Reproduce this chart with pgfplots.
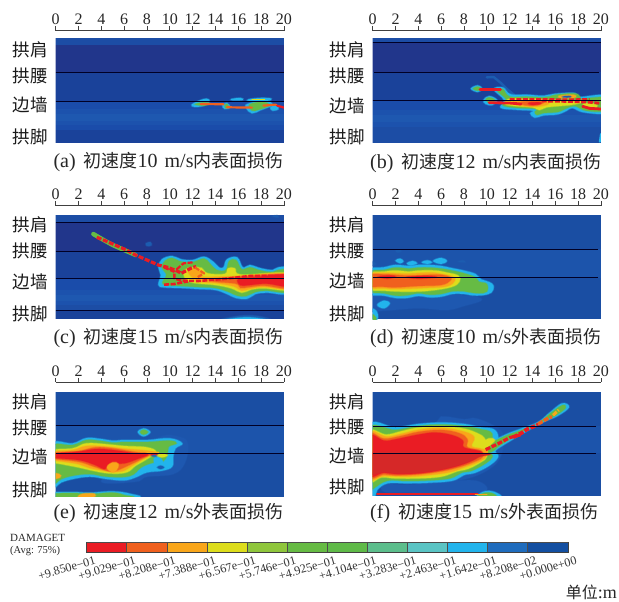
\documentclass[border=0pt]{standalone}
\usepackage{fontspec}
\setmainfont{Liberation Serif}
\newfontfamily\cjk{Noto Sans CJK SC}
\usepackage{pgfplots}
\pgfplotsset{compat=1.18}
\definecolor{c1}{HTML}{EA1C24}
\definecolor{c2}{HTML}{F0601E}
\definecolor{c3}{HTML}{F9A61A}
\definecolor{c4}{HTML}{DDDD1C}
\definecolor{c5}{HTML}{8FC63C}
\definecolor{c6}{HTML}{66BB44}
\definecolor{c7}{HTML}{5FBA48}
\definecolor{c8}{HTML}{5CBE8C}
\definecolor{c9}{HTML}{5AC4C4}
\definecolor{c10}{HTML}{22B4EC}
\definecolor{c11}{HTML}{1F6CBD}
\definecolor{c12}{HTML}{134FA1}
\definecolor{c0}{HTML}{D62828}
\definecolor{nav}{HTML}{21368B}
\definecolor{b1}{HTML}{1C4DA5}
\definecolor{b2}{HTML}{1A429A}
\definecolor{b3}{HTML}{1A4CAA}
\definecolor{b4}{HTML}{1E58B0}
\definecolor{b5}{HTML}{1A4EA3}
\definecolor{b6}{HTML}{1C54AB}
\definecolor{fnt}{HTML}{1C5CB0}
\newcommand\band[3]{\addplot[fill=#1,draw=none] coordinates {(-1,#2)(21,#2)(21,#3)(-1,#3)} --cycle;}
\newcommand\blob[2]{\addplot[fill=#1,draw=#1,draw opacity=0.4,line width=1.4pt,smooth cycle,tension=0.65] coordinates {#2};}
\newcommand\streak[3]{\addplot[draw=#1,line width=#2pt,line cap=round,line join=round] coordinates {#3};}
\newcommand\beads[3]{\addplot[draw=#1,line width=#2pt,dash pattern=on 5pt off 1.6pt,line join=round] coordinates {#3};}
\newcommand\sep[3]{\addplot[black!85!blue,line width=0.9pt] coordinates {(#2,#1)(#3,#1)};}
\newcommand\capt[5]{\node[anchor=west,inner sep=0pt,font=\fontsize{20}{20}\selectfont,black!85] at (#1pt,#2pt) {#3\hspace{8pt}{\fontsize{18}{18}\cjk 初速度}#4\hspace{7pt}m/s{\fontsize{18}{18}\cjk #5表面损伤}};}
\pgfplotsset{panel/.style={
  scale only axis,width=228.3pt,xmin=0,xmax=20,y dir=reverse,
  axis x line*=top,axis y line*=left,
  xtick={0,2,...,20},
  tick align=outside,major tick length=4.5pt,
  x axis line style={black!75,line width=0.8pt},
  xtick style={black!75,line width=0.8pt},
  y axis line style={draw=none},ytick style={draw=none},
  /pgf/number format/assume math mode=true,
  xticklabel style={font=\fontsize{16}{16}\selectfont,black!85,inner sep=1pt},
  yticklabel style={font=\fontsize{17.5}{18}\cjk,black!90,inner sep=0pt,xshift=-3pt},
  yticklabels={拱肩,拱腰,边墙,拱脚},
}}
\begin{document}
\begin{tikzpicture}
\path[use as bounding box] (0,0) rectangle (619pt,602pt);

% (a)
\begin{axis}[panel,at={(55.67pt,458.7pt)},anchor=south west,height=112.7pt,ymin=92,ymax=430,ytick={148,228,315,410}]
\band{b1}{113}{135}
\band{nav}{135}{218}
\band{b2}{218}{306}
\band{b3}{306}{328}
\band{b3!50!b4}{328}{342}
\band{b4}{342}{362}
\band{b3!50!b4}{362}{376}
\band{b3}{376}{390}
\band{b2}{390}{430}
\blob{c10}{(11.9,315)(12.5,303)(13.2,296)(13.5,304)(13,317)(12.2,321)}
\blob{c6}{(12.2,313)(13,307)(13.5,311)(13,317)}
\blob{c10}{(15.4,297)(16.2,294)(16.4,300)(15.5,301)}
\blob{c10}{(16.9,298)(18,294)(18.9,296)(18.5,303)(17,303)}
\blob{c10}{(16.8,312)(18.3,302)(19,315)(18,330)(17.2,340)(16.7,325)}
\blob{c6}{(17,313)(18.2,306)(18.7,317)(17.8,329)(17.2,332)}
\blob{c10}{(14.6,316)(15,309)(15.3,322)(14.8,327)}
\blob{c6}{(14.8,318)(15,312)(15.2,322)(14.9,325)}
\blob{c10}{(18.8,322)(19.4,316)(19.5,328)(19,332)}
\streak{c2}{2.2}{(12.7,312)(14.7,313)}
\streak{c2}{2.2}{(15,322)(17.2,323)}
\streak{c2}{2.2}{(18.2,317)(19.3,314)}
\streak{c1}{2.2}{(19.4,317)(20,323)}
\streak{c4}{1.2}{(17.2,298)(18.3,298)}
\sep{218}{0}{20}
\sep{306}{0}{20}
\end{axis}
\capt{53.3}{440}{(a)}{10}{内}

% (b)
\begin{axis}[panel,at={(372.67pt,459.3pt)},anchor=south west,height=112pt,ymin=92,ymax=428,ytick={150,228,318,410}]
\band{b1}{113}{126}
\band{nav}{126}{216}
\band{b2}{216}{302}
\band{b3}{302}{330}
\band{b3!50!b4}{330}{345}
\band{b4}{345}{365}
\band{b3!50!b4}{365}{380}
\band{b1}{380}{428}
\streak{fnt}{2.4}{(10,232)(10.6,231)(11.2,248)(11.8,268)(12.4,285)}
\blob{c10}{(10.6,268)(11.4,262)(12.1,283)(13.5,284)(15,287)(16,281)(17.7,279)(18,291)(20.5,287)(20.5,337)(18.5,337)(17.5,324)(17,332)(16.2,343)(15,346)(14.2,353)(13.8,340)(14,332)(12.5,329)(11.2,323)(11.5,300)}
\blob{c10}{(9.7,300)(10.2,288)(10.9,300)(10.5,315)(9.9,312)}
\blob{c6}{(9.9,300)(10.2,292)(10.7,300)(10.4,310)}
\blob{c10}{(8.6,266)(9.2,256)(9.6,266)(9.2,276)}
\blob{c6}{(8.8,266)(9.2,260)(9.5,266)(9.2,272)}
\blob{c6}{(10.9,272)(11.4,267)(12,290)(13.5,290)(15,292)(16,287)(17.5,285)(17.9,297)(20.5,293)(20.5,331)(18.7,332)(17.7,318)(16.9,326)(16.2,336)(15,339)(14.4,345)(14.2,336)(14.3,327)(12.5,323)(11.4,316)(11.7,298)}
\blob{c4}{(12,296)(13.5,296)(15.5,298)(17.8,300)(18.5,305)(17.5,314)(16.3,318)(15.2,322)(14.6,330)(14,322)(12.5,318)(11.6,312)}
\blob{c3}{(12.3,304)(13.5,301)(15.2,302)(15.4,312)(14.3,320)(12.8,316)}
\blob{c2}{(13,306)(14.3,304)(15,307)(14.3,316)(13.3,315)}
\blob{c1}{(13.7,308)(14.7,307)(14.6,313)(13.8,314)}
\blob{c6}{(15.7,287)(17.2,280)(18,283)(18,298)(16,296)}
\blob{c3}{(16.3,288)(17.3,284)(17.8,287)(17.6,294)(16.5,294)}
\blob{fnt}{(16.7,289)(17.3,288)(17.3,292)(16.7,292)}
\blob{c4}{(18.5,310)(19.5,312)(19.6,322)(18.6,320)}
\streak{c1}{2.8}{(9.4,268)(11.2,268)}
\streak{c1}{2.8}{(10.2,308)(12,309)(13,312)}
\beads{c1}{2.6}{(12,298)(14.8,298)(17,299)(19,298)}
\beads{c1}{2.8}{(14.8,303)(16.8,304)(18.8,306)(20,310)}
\streak{c1}{2.8}{(18.4,319)(19,325)(20,327)}
\streak{c10}{2}{(20,402)(19.9,425)}
\sep{126}{0}{20}
\sep{216}{0.1}{19.8}
\sep{302}{0}{20}
\end{axis}
\capt{370}{439}{(b)}{12}{内}

% (c)
\begin{axis}[panel,at={(55.67pt,283pt)},anchor=south west,height=113.3pt,ymin=77,ymax=417,ytick={133,213,305,403}]
\band{b1}{105}{128}
\band{nav}{128}{213}
\band{b2}{213}{294}
\band{b3}{294}{330}
\band{b3!50!b4}{330}{345}
\band{b4}{345}{362}
\band{b3!50!b4}{362}{376}
\band{b1}{376}{390}
\band{b2}{390}{417}
\blob{fnt}{(14.6,420)(16,408)(17.5,407)(18.7,420)}
\blob{c10}{(15,420)(16.2,413)(17.3,413)(18.3,420)}
\blob{fnt}{(19,109)(19.4,106)(19.5,112)}
\blob{fnt}{(7.9,190)(8.3,186)(8.4,196)(8,198)}
\blob{c10}{(9,315)(9.2,285)(9,262)(9.3,238)(10.2,228)(11,238)(12,240)(13,230)(13.8,245)(14.3,262)(14.7,262)(15,238)(15.9,232)(16.4,262)(17,255)(18,265)(19,270)(19.5,262)(20.5,268)(20.5,338)(18.5,338)(17.5,342)(16.8,356)(15.8,354)(15,342)(14,330)(12.5,327)(11,324)(9.5,322)}
\blob{c6}{(9.4,312)(9.7,285)(9.3,262)(9.6,242)(10.2,234)(11,245)(12,246)(13,236)(13.5,250)(14.1,270)(14.9,270)(15.2,243)(15.8,240)(16.3,268)(17,262)(18,272)(19,276)(19.5,270)(20.5,274)(20.5,334)(18.5,332)(17.5,336)(16.7,348)(15.9,347)(15.1,335)(14,324)(12.5,321)(11,318)}
\blob{c4}{(11.3,270)(12,262)(12.8,264)(13.3,280)(14.8,282)(15.1,265)(15.7,265)(16.3,284)(20.5,280)(20.5,328)(18.3,325)(17.2,328)(16.3,338)(15.4,325)(14,315)(12,308)(11.3,294)}
\blob{c3}{(11.6,276)(12.2,268)(12.8,274)(12.8,290)(14.5,290)(16,288)(20.5,282)(20.5,326)(18.3,321)(17.2,325)(16.3,332)(15.6,319)(14,309)(12.5,304)}
\blob{c2}{(13.5,297)(15,293)(16,290)(20.5,284)(20.5,324)(18.3,317)(17,321)(16.2,324)(15.8,311)(14,305)}
\blob{c1}{(16,297)(17.5,292)(20.5,284)(20.5,319)(18.5,311)(17,315)(16.2,316)}
\streak{c6}{4.4}{(3.3,162)(4.2,180)(5,195)(6,210)(7,225)}
\beads{c1}{3.2}{(3.6,172)(4.4,183)(5.2,195)(6.2,210)(7,225)(8,240)(9,255)(9.8,262)(10.6,272)(11,280)(12,262)(12.3,260)}
\beads{c1}{2.6}{(9.5,262)(10.4,275)(10.4,295)(11,302)(12.5,303)(15,296)(17,288)(20,288)}
\beads{c1}{2.6}{(9.5,314)(10.4,312)(11.6,304)}
\beads{c1}{2.2}{(10.6,268)(11.2,250)(12,247)}
\beads{c2}{2.2}{(12.2,262)(13,280)(12.4,292)}
\sep{128}{0}{20}
\sep{213}{0}{20}
\sep{294}{0}{20}
\sep{390}{0}{20}
\end{axis}
\capt{53.3}{264}{(c)}{15}{内}

% (d)
\begin{axis}[panel,at={(372.67pt,282.7pt)},anchor=south west,height=113.7pt,ymin=77,ymax=418,ytick={135,213,302,403}]
\band{b5}{105}{208}
\band{b6}{208}{293}
\band{b5}{293}{418}
\blob{b4}{(-0.5,345)(3,345)(7,345)(9,350)(9.5,362)(8,378)(6.5,390)(4,385)(1,392)(-0.5,392)}
\blob{c10}{(-0.5,385)(0.3,392)(0.4,418)(-0.5,420)}
\blob{c6}{(-0.5,400)(0.1,405)(0.3,420)(-0.5,420)}
\blob{c10}{(0.4,375)(1,362)(1.5,370)(1,385)}
\blob{fnt}{(-0.5,240)(0.3,252)(-0.5,262)}
\blob{fnt}{(2,212)(2.3,208)(2.5,214)(2.2,218)}
\blob{c10}{(2,242)(2.4,236)(2.7,244)(2.4,250)}
\blob{c10}{(3,250)(3.5,243)(3.9,250)(3.3,256)}
\blob{c10}{(4.3,247)(4.8,241)(5.2,247)(4.8,252)}
\blob{c10}{(5.3,243)(6,234)(6.5,243)(6,252)}
\blob{fnt}{(7.5,245)(7.9,241)(8.1,247)}
\blob{c10}{(-0.5,272)(1,262)(2,255)(3.2,258)(4,255)(5,255)(6,258)(7,265)(8,272)(9,282)(9.5,298)(10.2,306)(10.6,318)(10.4,338)(9.6,346)(8.7,346)(8,342)(7,342)(6,350)(5,352)(4,348)(3,354)(2,354)(1,347)(-0.5,338)}
\blob{c6}{(-0.5,278)(1,270)(2,263)(3.2,266)(4,263)(5,263)(6,266)(7,272)(8,280)(9,292)(9.3,305)(10,312)(10,335)(9.3,340)(8.5,337)(8,334)(7,334)(6,342)(5,344)(4,340)(3,346)(2,347)(1,340)(-0.5,331)}
\blob{c4}{(-0.5,282)(1,275)(2,272)(3.2,275)(4,272)(5.5,272)(6.5,278)(7.5,287)(7.6,305)(6.9,321)(5,332)(3,335)(1,332)(-0.5,326)}
\blob{c3}{(-0.5,284)(1,279)(3,281)(5,278)(6,282)(7,290)(7.2,302)(6.5,319)(4.5,324)(2,327)(1,325)(-0.5,322)}
\blob{c2}{(-0.5,287)(1,283)(3,287)(5,285)(6,285)(6.8,292)(6.8,302)(6,315)(4,318)(2,322)(0.8,320)(-0.5,318)}
\blob{c1}{(0.5,290)(1.5,287)(2,290)(1.3,296)}
\blob{c1}{(3,291)(4.8,288)(5.6,292)(4,296)}
\sep{208}{0}{19.7}
\sep{293}{0}{19.7}
\end{axis}
\capt{370}{264}{(d)}{10}{外}

% (e)
\begin{axis}[panel,at={(55.67pt,105.3pt)},anchor=south west,height=114.3pt,ymin=97,ymax=440,ytick={155,232,320,418}]
\band{b5}{125}{225}
\band{b6}{225}{310}
\band{b5}{310}{440}
\blob{b4}{(9,262)(11,262)(11.6,285)(11.3,340)(10.3,372)(8,380)(7,395)(4,395)(6,340)}
\blob{c10}{(7.2,246)(7.7,235)(8.3,246)(7.7,259)}
\blob{c6}{(7.4,246)(7.7,239)(8.1,246)(7.7,254)}
\blob{c10}{(-0.5,285)(1.5,280)(2.7,264)(4,267)(5,272)(6,270)(8,270)(10,265)(11.1,280)(10.5,295)(10.3,320)(10.2,350)(9.3,362)(8,367)(7,382)(6,391)(4.5,387)(3,380)(1.5,387)(0.5,397)(-0.5,412)}
\blob{c6}{(-0.5,292)(1.5,285)(2.7,270)(4,273)(5,278)(6,276)(8,276)(10,272)(10.6,280)(9.9,290)(9.8,312)(9.4,335)(8.5,338)(7.5,352)(6.5,378)(4.5,380)(3,372)(1.5,377)(0.5,387)(-0.5,402)}
\blob{c4}{(-0.5,302)(1.5,295)(2.7,280)(4.5,283)(6,288)(8,292)(8.8,306)(8,327)(7,347)(6.2,367)(4.7,370)(3,360)(2,352)(0.5,342)(-0.5,334)}
\blob{c3}{(-0.5,306)(1.5,300)(2.7,288)(4.5,290)(6,296)(8,302)(8.6,309)(7.7,327)(6.7,347)(5.8,364)(4.7,364)(3,354)(2,342)(0.5,334)(-0.5,328)}
\blob{c2}{(-0.5,310)(2,303)(3.5,292)(5,295)(7,306)(8.3,311)(7.5,327)(6.5,344)(5.3,362)(4.7,364)(3.3,349)(2,335)(-0.5,324)}
\blob{c1}{(-0.5,312)(2,305)(3.5,297)(5,300)(7,310)(8.1,313)(7.3,325)(6,340)(4.7,340)(4.3,357)(3.4,344)(2,330)(-0.5,322)}
\blob{c3}{(4.5,352)(5,337)(5.5,342)(5.3,362)(4.9,366)}
\blob{c3}{(-0.5,370)(0.3,372)(0.4,382)(-0.5,388)}
\blob{c10}{(8.6,326)(9,320)(9.4,335)(9.3,360)(8.8,352)}
\blob{fnt}{(8.9,352)(9.2,347)(9.5,352)(9.2,357)}
\blob{c4}{(8.9,316)(9.3,311)(9.8,316)(9.3,322)}
\blob{c1}{(8.3,312)(8.7,309)(8.9,314)(8.5,318)}
\blob{c11}{(8.4,318)(8.7,315)(8.8,320)}
\streak{c3}{1.6}{(8,306)(9,307)}
\blob{c10}{(-0.5,441)(-0.5,428)(1.5,426)(3,428)(5,424)(6.5,431)(6.9,442)}
\blob{c6}{(-0.5,441)(-0.5,432)(1.5,429)(3,432)(5,428)(6,435)(6.4,442)}
\blob{c3}{(2,441)(2.4,431)(3.4,431)(3.3,441)}
\sep{225}{0}{20}
\sep{310}{0}{20}
\end{axis}
\capt{53.3}{89}{(e)}{12}{外}

% (f)
\begin{axis}[panel,at={(372.67pt,106pt)},anchor=south west,height=113.7pt,ymin=97,ymax=438,ytick={155,232,318,412}]
\band{b5}{125}{228}
\band{b6}{228}{309}
\band{b5}{309}{438}
\blob{b4}{(5.7,212)(6.3,200)(8,208)(9,205)(10.5,225)(11.4,250)(11.4,300)(10.5,350)(8,388)(4,402)(4,300)}
\blob{b4}{(1,404)(3,404)(5,400)(9,392)(9.5,428)(3,428)(1,425)}
\blob{c10}{(-0.5,232)(2,232)(4,222)(6,218)(8,222)(9.5,232)(10.6,238)(11,262)(10.7,300)(11,320)(10.3,345)(9,368)(8,375)(7,392)(5,398)(3,400)(1.3,400)(0.4,420)(0.2,440)(-0.5,440)}
\blob{c10}{(9.8,290)(11.5,256)(13,236)(14.5,216)(15.5,188)(16.6,160)(17.2,172)(16.2,198)(15,216)(13.5,244)(12,274)(11,295)(10.4,310)}
\blob{c6}{(9.9,290)(11.5,260)(13,241)(14.5,220)(15.5,192)(16.6,166)(16.9,174)(16,197)(15,212)(13.5,238)(12,268)(11,290)(10.4,306)}
\blob{c6}{(-0.5,240)(2,240)(4,228)(6,224)(8,228)(9.5,238)(10.3,245)(10.5,262)(10.2,300)(10.5,320)(9.9,340)(8.7,362)(7.8,368)(6.8,385)(5,391)(3,393)(1.3,392)(0.1,415)(-0.5,430)}
\blob{c4}{(-0.5,248)(1.2,254)(2.5,244)(4,233)(6,229)(8,236)(9.3,252)(9.8,265)(10,285)(10,320)(9.5,336)(8.4,356)(7.4,364)(6,380)(4,385)(2,385)(0.8,382)(-0.5,390)}
\blob{c3}{(-0.5,250)(1.2,260)(2.5,252)(4,240)(6,234)(8,245)(8.9,262)(8.7,290)(10,299)(9.8,325)(9,340)(8,352)(6.8,366)(5,375)(3,380)(1,378)(-0.5,384)}
\blob{c2}{(-0.5,253)(1,266)(2.5,258)(4,246)(6,240)(7.6,250)(8.3,268)(8.3,292)(9.5,302)(9.6,322)(8.7,338)(7.5,352)(6,364)(4,373)(2,376)(1,373)(-0.5,378)}
\blob{c1}{(-0.5,258)(1,272)(2,268)(4,254)(5.5,248)(7,256)(7.9,272)(8,292)(9.5,305)(9.3,320)(8,342)(6,360)(4,370)(2,372)(1,368)(-0.5,374)}
\blob{c0}{(-0.5,310)(9.6,310)(9.2,322)(8,340)(6,358)(4,368)(2,370)(1,366)(-0.5,372)}
\blob{c4}{(9.3,287)(10.2,265)(10.7,270)(10.3,285)(9.8,296)}
\beads{c1}{3.2}{(9.9,299)(11,281)(12,263)(13,254)}
\beads{c1}{3.8}{(12.3,262)(13,250)(13.5,238)(14.5,224)}
\beads{c2}{3.4}{(14.5,222)(15.2,208)(15.7,200)}
\beads{c3}{3}{(15.8,196)(16.3,180)}
\streak{c1}{2.2}{(0.4,433)(9.2,433)}
\blob{c10}{(9.2,440)(9.8,424)(10.6,425)(11.2,440)}
\blob{c6}{(9.2,440)(9.8,429)(10.4,429)(10.8,440)}
\streak{c3}{1.5}{(9,434)(10,434)}
\sep{228}{0}{19.6}
\sep{309}{0}{19.6}
\end{axis}
\capt{370}{89}{(f)}{15}{外}

% colour bar
\begin{axis}[scale only axis,at={(86.7pt,50pt)},anchor=south west,width=481.3pt,height=10pt,
  x dir=reverse,xmin=0,xmax=0.985,ymin=0,ymax=1,ytick=\empty,
  xtick={0.985,0.9029,0.8208,0.7388,0.6567,0.5746,0.4925,0.4104,0.3283,0.2463,0.1642,0.08208,0},
  xticklabels={+9.850e−01,+9.029e−01,+8.208e−01,+7.388e−01,+6.567e−01,+5.746e−01,+4.925e−01,+4.104e−01,+3.283e−01,+2.463e−01,+1.642e−01,+8.208e−02,+0.000e+00},
  xtick pos=bottom,major tick length=0pt,
  xticklabel style={font=\fontsize{12.2}{13}\selectfont,black!80,rotate=16,anchor=east,inner sep=0pt,xshift=6pt,yshift=-10pt},
  axis line style={black!75,line width=0.8pt}]
\addplot[fill=c1,draw=black!70,line width=.8pt] coordinates {(0.985,0)(0.9029,0)(0.9029,1)(0.985,1)} --cycle;
\addplot[fill=c2,draw=black!70,line width=.8pt] coordinates {(0.9029,0)(0.8208,0)(0.8208,1)(0.9029,1)} --cycle;
\addplot[fill=c3,draw=black!70,line width=.8pt] coordinates {(0.8208,0)(0.7388,0)(0.7388,1)(0.8208,1)} --cycle;
\addplot[fill=c4,draw=black!70,line width=.8pt] coordinates {(0.7388,0)(0.6567,0)(0.6567,1)(0.7388,1)} --cycle;
\addplot[fill=c5,draw=black!70,line width=.8pt] coordinates {(0.6567,0)(0.5746,0)(0.5746,1)(0.6567,1)} --cycle;
\addplot[fill=c6,draw=black!70,line width=.8pt] coordinates {(0.5746,0)(0.4925,0)(0.4925,1)(0.5746,1)} --cycle;
\addplot[fill=c7,draw=black!70,line width=.8pt] coordinates {(0.4925,0)(0.4104,0)(0.4104,1)(0.4925,1)} --cycle;
\addplot[fill=c8,draw=black!70,line width=.8pt] coordinates {(0.4104,0)(0.3283,0)(0.3283,1)(0.4104,1)} --cycle;
\addplot[fill=c9,draw=black!70,line width=.8pt] coordinates {(0.3283,0)(0.2463,0)(0.2463,1)(0.3283,1)} --cycle;
\addplot[fill=c10,draw=black!70,line width=.8pt] coordinates {(0.2463,0)(0.1642,0)(0.1642,1)(0.2463,1)} --cycle;
\addplot[fill=c11,draw=black!70,line width=.8pt] coordinates {(0.1642,0)(0.08208,0)(0.08208,1)(0.1642,1)} --cycle;
\addplot[fill=c12,draw=black!70,line width=.8pt] coordinates {(0.08208,0)(0,0)(0,1)(0.08208,1)} --cycle;
\end{axis}
\node[anchor=west,inner sep=0pt,font=\fontsize{11}{11}\selectfont,black!85] at (10pt,64pt) {DAMAGET};
\node[anchor=west,inner sep=0pt,font=\fontsize{10.5}{11}\selectfont,black!85] at (10pt,51pt) {(Avg: 75\%)};
\node[anchor=east,inner sep=0pt,font=\fontsize{18}{18}\selectfont,black!85] at (617pt,10pt) {{\fontsize{16}{16}\cjk 单位}:m};
\end{tikzpicture}
\end{document}
